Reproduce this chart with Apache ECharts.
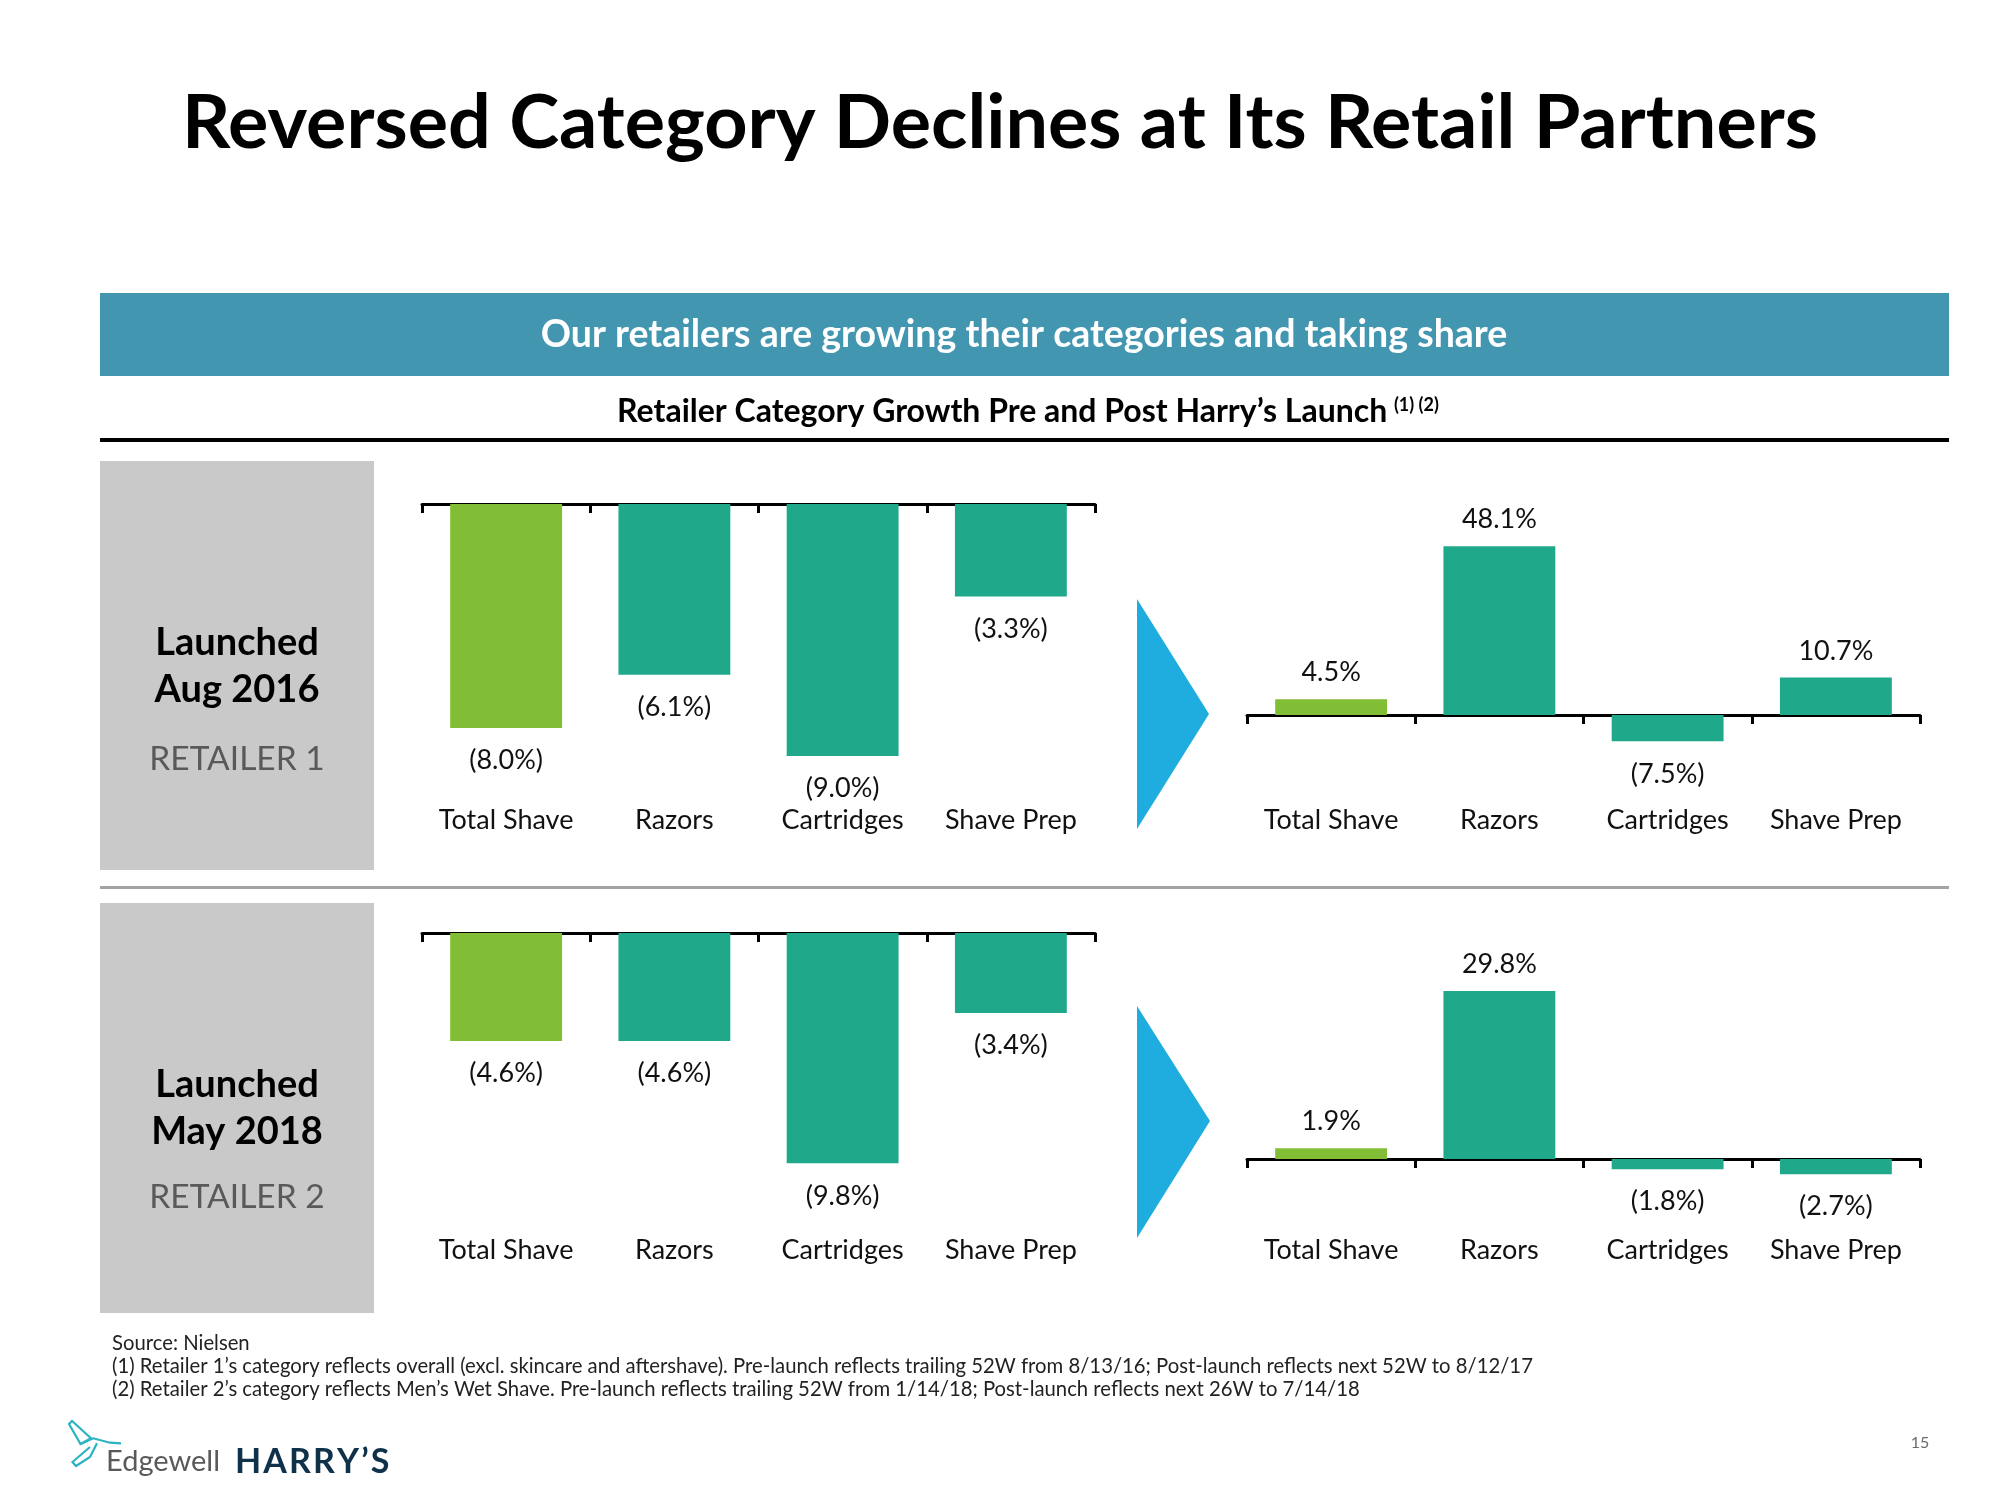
<!DOCTYPE html>
<html>
<head>
<meta charset="utf-8">
<script src="https://cdn.jsdelivr.net/npm/echarts@6/dist/echarts.min.js"></script>
<style>
  html, body { margin: 0; padding: 0; background: #ffffff; }
  #chart { width: 2000px; height: 1500px; }
</style>
</head>
<body>
<div id="chart"></div>
<script>
// ---------- DATA ----------
const categories = ['Total Shave', 'Razors', 'Cartridges', 'Shave Prep'];
const retailer1Pre = [-8.0, -6.1, -9.0, -3.3];
const retailer1Post = [4.5, 48.1, -7.5, 10.7];
const retailer2Pre = [-4.6, -4.6, -9.8, -3.4];
const retailer2Post = [1.9, 29.8, -1.8, -2.7];

const titleText = 'Reversed Category Declines at Its Retail Partners';
const bannerText = 'Our retailers are growing their categories and taking share';
const subtitleText = 'Retailer Category Growth Pre and Post Harry\u2019s Launch';
const footnotes = [
  'Source: Nielsen',
  '(1) Retailer 1\u2019s category reflects overall (excl. skincare and aftershave). Pre-launch reflects trailing 52W from 8/13/16; Post-launch reflects next 52W to 8/12/17',
  '(2) Retailer 2\u2019s category reflects Men\u2019s Wet Shave. Pre-launch reflects trailing 52W from 1/14/18; Post-launch reflects next 26W to 7/14/18'
];

// ---------- STYLE ----------
const GREEN = '#82BD36';
const TEAL = '#1FA88A';
const FONT = 'Lato';

const chart = echarts.init(document.getElementById('chart'), null, { renderer: 'canvas' });

// grid specs
const grids = [
  { left: 422, top: 504, width: 673, height: 280, min: -10, max: 0, margin: 23, data: retailer1Pre },
  { left: 1247, top: 539.5, width: 673, height: 210.6, min: -10, max: 50, margin: 57, data: retailer1Post },
  { left: 422, top: 933, width: 673, height: 235, min: -10, max: 0, margin: 69, data: retailer2Pre },
  { left: 1247, top: 989.8, width: 673, height: 197.4, min: -5, max: 30, margin: 50, data: retailer2Post }
];

function fmt(v) {
  return v < 0 ? '(' + Math.abs(v).toFixed(1) + '%)' : v.toFixed(1) + '%';
}

const option = {
  animation: false,
  backgroundColor: '#ffffff',
  grid: [],
  xAxis: [],
  yAxis: [],
  series: [],
  graphic: []
};

grids.forEach((g, i) => {
  option.grid.push({
    left: g.left, top: g.top, width: g.width, height: g.height,
    containLabel: false, outerBoundsMode: 'none'
  });
  option.xAxis.push({
    type: 'category', gridIndex: i, data: categories, position: 'bottom',
    axisLine: { show: true, onZero: true, lineStyle: { color: '#000', width: 3 } },
    axisTick: { show: true, length: 9, lineStyle: { color: '#000', width: 3 } },
    axisLabel: { show: false },
    splitLine: { show: false }
  });
  option.xAxis.push({
    type: 'category', gridIndex: i, data: categories, position: 'bottom',
    axisLine: { show: false, onZero: false },
    axisTick: { show: false },
    axisLabel: { show: true, interval: 0, hideOverlap: false, margin: g.margin, fontFamily: FONT, fontSize: 27, color: '#111' },
    splitLine: { show: false }
  });
  option.yAxis.push({
    type: 'value', gridIndex: i, min: g.min, max: g.max, show: false,
    splitLine: { show: false }
  });
  option.series.push({
    type: 'bar', xAxisIndex: i * 2, yAxisIndex: i,
    barCategoryGap: '33.5%',
    data: g.data.map((v, k) => ({
      value: v,
      itemStyle: { color: k === 0 ? GREEN : TEAL },
      label: { distance: v < 0 ? 19 : 13 }
    })),
    label: {
      show: true, position: 'outside', distance: 14,
      fontFamily: FONT, fontSize: 27, color: '#111',
      formatter: p => fmt(p.value)
    },
    z: 1
  });
});

// ---------- GRAPHICS ----------
const G = option.graphic;
function txt(x, y, text, font, color, align, valign) {
  G.push({
    type: 'text', z: 10,
    style: {
      x: x, y: y, text: text, font: font, fill: color,
      textAlign: align || 'center', textVerticalAlign: valign || 'middle',
      align: align || 'center', verticalAlign: valign || 'middle'
    }
  });
}
function rect(x, y, w, h, color) {
  G.push({ type: 'rect', z: 0, shape: { x: x, y: y, width: w, height: h }, style: { fill: color } });
}

txt(1000, 124, titleText, 'bold 75.5px ' + FONT, '#000');

rect(100, 293, 1849, 83, '#4396B0');
txt(1024, 335, bannerText, 'bold 37.5px ' + FONT, '#ffffff');

// subtitle with superscripts
G.push({
  type: 'text', z: 10,
  style: {
    x: 1028, y: 412,
    text: '{m|' + subtitleText + '}  {s|(1) (2)}',
    rich: {
      m: { font: 'bold 32px ' + FONT, fill: '#000', fontFamily: FONT, fontWeight: 'bold', fontSize: 32 },
      s: { font: 'bold 18px ' + FONT, fill: '#000', fontFamily: FONT, fontWeight: 'bold', fontSize: 18, verticalAlign: 'top', padding: [0, 0, 14, 0] }
    },
    textAlign: 'center', textVerticalAlign: 'middle', align: 'center', verticalAlign: 'middle'
  }
});
rect(100, 438, 1849, 4, '#000');

// retailer boxes
rect(100, 461, 274, 409, '#C9C9C9');
rect(100, 903, 274, 410, '#C9C9C9');
rect(100, 886, 1849, 3, '#A3A3A3');

txt(237, 643, 'Launched', 'bold 38px ' + FONT, '#000');
txt(237, 690, 'Aug 2016', 'bold 38px ' + FONT, '#000');
txt(237, 759, 'RETAILER 1', '33.5px ' + FONT, '#595959');
txt(237, 1085, 'Launched', 'bold 38px ' + FONT, '#000');
txt(237, 1132, 'May 2018', 'bold 38px ' + FONT, '#000');
txt(237, 1197, 'RETAILER 2', '33.5px ' + FONT, '#595959');

// arrows
G.push({ type: 'polygon', z: 5, shape: { points: [[1137, 599], [1209, 714], [1137, 829]] }, style: { fill: '#1FADE0' } });
G.push({ type: 'polygon', z: 5, shape: { points: [[1137, 1006], [1210, 1121], [1137, 1238]] }, style: { fill: '#1FADE0' } });

// footnotes
footnotes.forEach((t, i) => {
  txt(112, 1343 + i * 23, t, '20.3px ' + FONT, '#222', 'left', 'middle');
});

// logo
const BIRD = '#2BB3C3';
G.push({ type: 'polygon', z: 10, shape: { points: [[69, 1424], [72, 1421], [91, 1438.3], [80.5, 1444]] }, style: { fill: 'none', stroke: BIRD, lineWidth: 2.2 } });
G.push({ type: 'polyline', z: 10, shape: { points: [[80.5, 1444], [93.3, 1438.3], [110, 1442.7], [121, 1443.3]] }, style: { stroke: BIRD, lineWidth: 2.2, fill: 'none' } });
G.push({ type: 'polyline', z: 10, shape: { points: [[97, 1443.3], [90, 1457], [76, 1466], [72.5, 1462], [90, 1447]] }, style: { stroke: BIRD, lineWidth: 2.2, fill: 'none' } });
txt(106, 1462, 'Edgewell', '29px ' + FONT, '#58595B', 'left', 'middle');
txt(235, 1462, 'H A R R Y \u2019 S'.replace(/ /g, '\u200A'), 'bold 34px ' + FONT, '#0F3149', 'left', 'middle');

txt(1920, 1443, '15', '16px ' + FONT, '#6b6b6b', 'center', 'middle');

chart.setOption(option);
</script>
</body>
</html>
